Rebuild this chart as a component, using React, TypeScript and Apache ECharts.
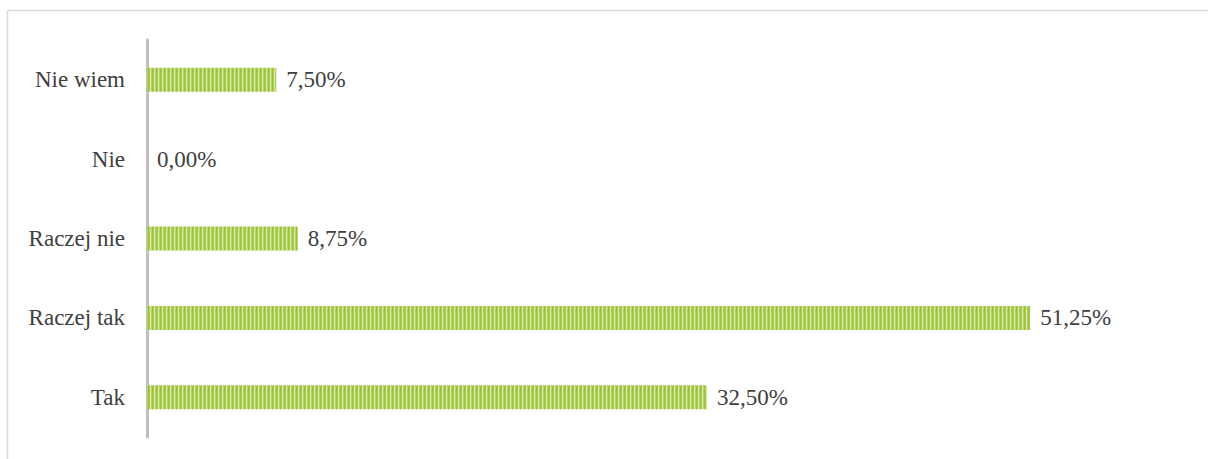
import React, { useEffect, useRef } from "react";
import * as echarts from "echarts";

const categories = ["Tak", "Raczej tak", "Raczej nie", "Nie", "Nie wiem"];
const values = [32.5, 51.25, 8.75, 0.0, 7.5];

function makePattern(): HTMLCanvasElement {
  const c = document.createElement("canvas");
  const cols = ["#9cc23a", "#a8cb4c", "#d8e9ae", "#b5d266"];
  c.width = cols.length;
  c.height = 2;
  const ctx = c.getContext("2d")!;
  cols.forEach((col, i) => {
    ctx.fillStyle = col;
    ctx.fillRect(i, 0, 1, 2);
  });
  return c;
}

export default function App() {
  const ref = useRef<HTMLDivElement>(null);
  useEffect(() => {
    if (!ref.current) return;
    const chart = echarts.init(ref.current, null, { renderer: "svg" });
    const font = "Liberation Serif";
    chart.setOption({
      animation: false,
      backgroundColor: "#ffffff",
      textStyle: { fontFamily: font },
      graphic: [
        {
          type: "rect",
          shape: { x: 7.5, y: 10.5, width: 1220, height: 470 },
          style: { fill: "none", stroke: "#d9d9d9", lineWidth: 1.5 },
          silent: true,
        },
      ],
      grid: { left: 147, right: 27, top: 40, bottom: 22 },
      xAxis: {
        type: "value",
        min: 0,
        max: 60,
        show: false,
        splitLine: { show: false },
      },
      yAxis: {
        type: "category",
        data: categories,
        offset: 1,
        axisLine: { show: true, lineStyle: { color: "#bfbfbf", width: 3 } },
        axisTick: { show: false },
        axisLabel: {
          color: "#404040",
          fontFamily: font,
          fontSize: 23,
          margin: 21,
        },
      },
      series: [
        {
          type: "bar",
          data: values,
          barWidth: 24,
          itemStyle: {
            color: { image: makePattern(), repeat: "repeat" },
          },
          label: {
            show: true,
            position: "right",
            distance: 10,
            color: "#404040",
            fontFamily: font,
            fontSize: 23,
            formatter: (p: any) => p.value.toFixed(2).replace(".", ",") + "%",
          },
        },
      ],
    });
    return () => chart.dispose();
  }, []);
  return (
    <div
      ref={ref}
      style={{ position: "absolute", left: 0, top: 0, width: 1208, height: 459 }}
    />
  );
}
